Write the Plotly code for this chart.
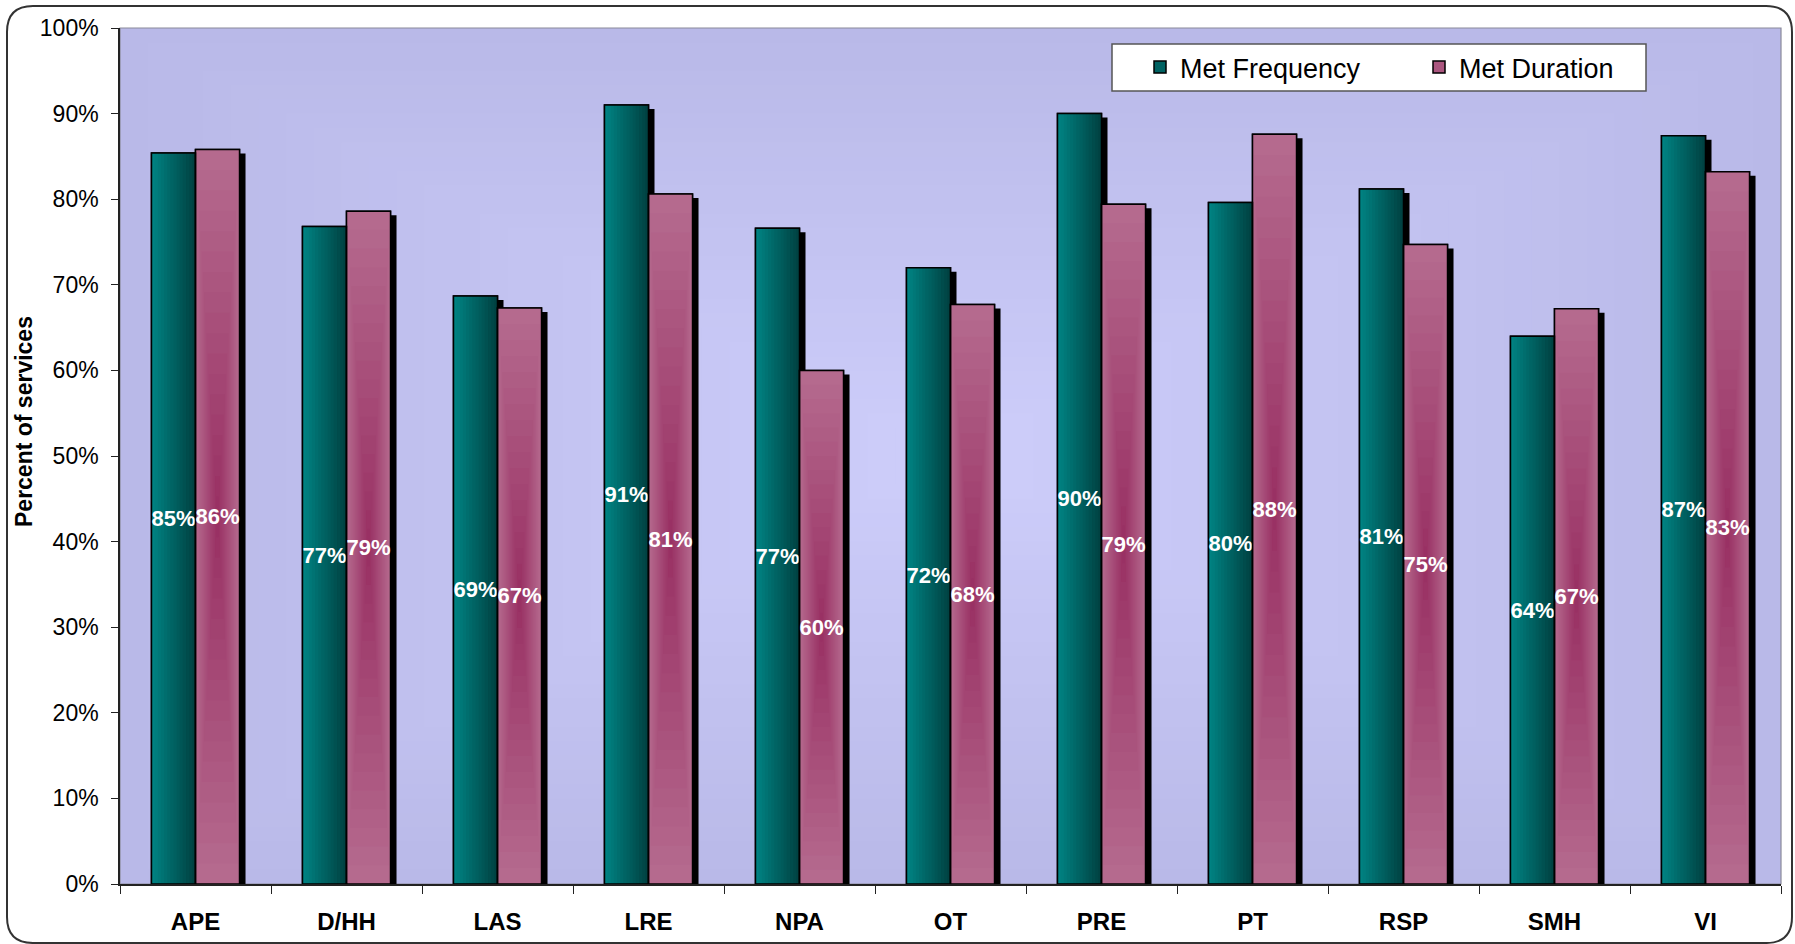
import plotly.graph_objects as go

# ---- data -----------------------------------------------------------------
categories = ["APE", "D/HH", "LAS", "LRE", "NPA", "OT", "PRE", "PT", "RSP", "SMH", "VI"]
met_frequency = [85.4, 76.8, 68.7, 91.0, 76.6, 72.0, 90.0, 79.6, 81.2, 64.0, 87.4]
met_duration = [85.8, 78.6, 67.3, 80.6, 60.0, 67.7, 79.4, 87.6, 74.7, 67.2, 83.2]
y_tick_values = [0, 10, 20, 30, 40, 50, 60, 70, 80, 90, 100]
y_tick_labels = ["0%", "10%", "20%", "30%", "40%", "50%", "60%", "70%", "80%", "90%", "100%"]

# ---- geometry -------------------------------------------------------------
FIG_W, FIG_H = 1795, 944
M_L, M_R, M_T, M_B = 120, 14, 28, 60
PLOT_W = FIG_W - M_L - M_R
PLOT_H = FIG_H - M_T - M_B
CAT_PX = PLOT_W / len(categories)

BAR_W = 0.2915                      # width of one bar, in category units
SHADOW_DX = 6 / CAT_PX              # drop shadow shift to the right
SHADOW_DY = 4 * 100 / PLOT_H        # drop shadow shift downward (in %)

FONT = "Liberation Sans, Arial, sans-serif"


def px_x(px):
    return (px - M_L) / PLOT_W


def px_y(py):
    return (FIG_H - M_B - py) / PLOT_H


def lerp(c0, c1, t):
    return "rgb({},{},{})".format(*[round(a + (b - a) * t) for a, b in zip(c0, c1)])


TEAL_LIGHT = (0, 130, 130)
TEAL_DARK = (0, 66, 66)
PINK_LIGHT = (181, 106, 142)
PINK_DARK = (153, 49, 100)
BG_EDGE = (185, 185, 232)
BG_CENTER = (205, 205, 250)

fig = go.Figure()

common = dict(x=categories, hoverinfo="skip", showlegend=False)

# drop shadows behind each bar
fig.add_trace(go.Bar(y=met_frequency, base=-SHADOW_DY, offset=-BAR_W + SHADOW_DX,
                     width=BAR_W, marker=dict(color="black", line=dict(width=0)), **common))
fig.add_trace(go.Bar(y=met_duration, base=-SHADOW_DY, offset=SHADOW_DX,
                     width=BAR_W, marker=dict(color="black", line=dict(width=0)), **common))

# Met Frequency: horizontal teal gradient, light on the left, dark on the right
N_TEAL = 14
fig.add_trace(go.Bar(x=categories, y=met_frequency, name="Met Frequency",
                     offset=-BAR_W, width=BAR_W, hoverinfo="skip",
                     marker=dict(color=lerp(TEAL_DARK, TEAL_LIGHT, 0.5),
                                 line=dict(color="black", width=1.5)),
                     showlegend=True, legendrank=1))
fig.add_trace(go.Bar(y=met_frequency, offset=-BAR_W, width=BAR_W,
                     marker=dict(color=lerp(TEAL_DARK, TEAL_LIGHT, 0), line=dict(width=0)),
                     **common))
for k in range(1, N_TEAL):
    frac = 1 - k / N_TEAL
    fig.add_trace(go.Bar(y=met_frequency, offset=-BAR_W, width=BAR_W * frac,
                         marker=dict(color=lerp(TEAL_DARK, TEAL_LIGHT, k / (N_TEAL - 1)),
                                     line=dict(width=0)),
                         **common))

# Met Duration: gradient from the bar centre (dark) out to the edges (light)
N_PINK = 18
fig.add_trace(go.Bar(x=categories, y=met_duration, name="Met Duration",
                     offset=0, width=BAR_W, hoverinfo="skip",
                     marker=dict(color=lerp(PINK_LIGHT, PINK_DARK, 0.35),
                                 line=dict(color="black", width=1.5)),
                     showlegend=True, legendrank=2))
for k in range(0, N_PINK):
    frac = 1 - k / N_PINK
    fig.add_trace(go.Bar(y=[v * frac for v in met_duration],
                         base=[v * (1 - frac) / 2 for v in met_duration],
                         offset=BAR_W * (1 - frac) / 2, width=BAR_W * frac,
                         marker=dict(color=lerp(PINK_LIGHT, PINK_DARK, k / (N_PINK - 1)),
                                     line=dict(width=0)),
                         **common))

# outlines and value labels on top
label_font = dict(family=FONT, size=22, color="white", weight="bold")
for vals, off in ((met_frequency, -BAR_W), (met_duration, 0)):
    fig.add_trace(go.Bar(y=vals, offset=off, width=BAR_W,
                         marker=dict(color="rgba(0,0,0,0)", line=dict(color="black", width=1.5)),
                         text=vals, texttemplate="%{y:.0f}%", textposition="inside",
                         insidetextanchor="middle", constraintext="none", textangle=0,
                         textfont=label_font, cliponaxis=False, **common))

# ---- decorations ----------------------------------------------------------
shapes = []
N_BG = 30
for j in range(N_BG):
    s = 1 - j / N_BG
    shapes.append(dict(type="rect", xref="paper", yref="paper", layer="below",
                       x0=0.5 - s / 2, x1=0.5 + s / 2, y0=0.5 - s / 2, y1=0.5 + s / 2,
                       line=dict(width=0),
                       fillcolor=lerp(BG_EDGE, BG_CENTER, j / (N_BG - 1))))
# plot area frame (top and right edges show in grey)
shapes.append(dict(type="rect", xref="paper", yref="paper", layer="below",
                   x0=0, x1=1, y0=0, y1=1, line=dict(color="#8a8a9a", width=1.2)))

# legend box
shapes.append(dict(type="rect", xref="paper", yref="paper", layer="above",
                   x0=px_x(1112), x1=px_x(1646), y0=px_y(91), y1=px_y(44),
                   fillcolor="white", line=dict(color="#555555", width=1.5)))

# rounded outer border of the whole chart
bx0, by0, bx1, by1, r = 7, 6, 1792, 943, 26


def pt(px, py):
    return f"{px_x(px):.5f},{px_y(py):.5f}"


border_path = (
    f"M {pt(bx0 + r, by0)} L {pt(bx1 - r, by0)} Q {pt(bx1, by0)} {pt(bx1, by0 + r)} "
    f"L {pt(bx1, by1 - r)} Q {pt(bx1, by1)} {pt(bx1 - r, by1)} "
    f"L {pt(bx0 + r, by1)} Q {pt(bx0, by1)} {pt(bx0, by1 - r)} "
    f"L {pt(bx0, by0 + r)} Q {pt(bx0, by0)} {pt(bx0 + r, by0)} Z"
)
shapes.append(dict(type="path", xref="paper", yref="paper", layer="above",
                   path=border_path, line=dict(color="#333333", width=2)))

fig.update_layout(
    template="none",
    width=FIG_W, height=FIG_H,
    margin=dict(l=M_L, r=M_R, t=M_T, b=M_B, pad=0, autoexpand=False),
    paper_bgcolor="white",
    plot_bgcolor="rgb(185,185,232)",
    barmode="overlay",
    font=dict(family=FONT, color="black"),
    showlegend=True,
    legend=dict(orientation="h", x=px_x(1140), xanchor="left",
                y=px_y(67.5), yanchor="middle",
                bgcolor="rgba(0,0,0,0)", borderwidth=0,
                font=dict(family=FONT, size=27, color="black"),
                entrywidth=234, entrywidthmode="pixels",
                traceorder="normal"),
    xaxis=dict(type="category", range=[-0.5, len(categories) - 0.5],
               showgrid=False, zeroline=False,
               showline=True, linecolor="#222222", linewidth=1.5,
               ticks="outside", tickson="boundaries", ticklen=8, tickwidth=1.3,
               tickcolor="#222222", ticklabelstandoff=15,
               tickfont=dict(family=FONT, size=24, color="black", weight="bold"),
               automargin=False, fixedrange=True),
    yaxis=dict(range=[0, 100], tickmode="array",
               tickvals=y_tick_values, ticktext=y_tick_labels,
               showgrid=False, zeroline=False,
               showline=True, linecolor="#222222", linewidth=1.5,
               ticks="outside", ticklen=7, tickwidth=1.3, tickcolor="#222222",
               ticklabelstandoff=8,
               tickfont=dict(family=FONT, size=23, color="black"),
               automargin=False, fixedrange=True),
    shapes=shapes,
    annotations=[dict(text="Percent of services", xref="paper", yref="paper",
                      x=px_x(24), y=px_y(422), xanchor="center", yanchor="middle",
                      textangle=-90, showarrow=False,
                      font=dict(family=FONT, size=23, color="black", weight="bold"))],
)

fig.write_html("out.html")
